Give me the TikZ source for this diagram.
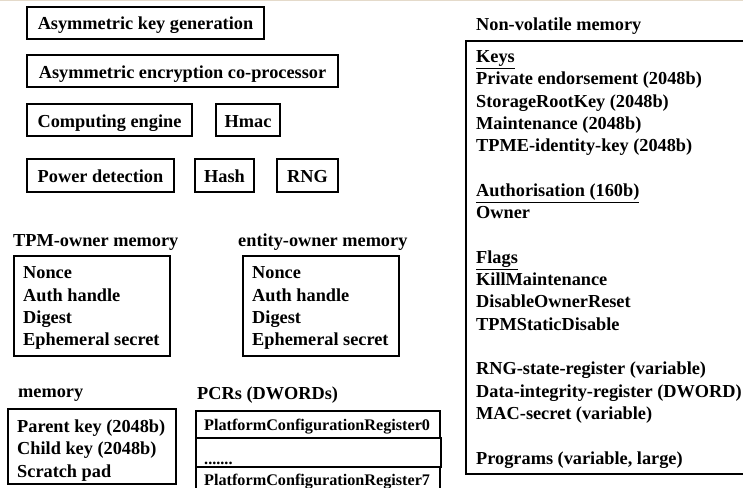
\documentclass[tikz,border=0pt]{standalone}
\usepackage{fontspec}
\setmainfont{Liberation Serif}
\definecolor{topline}{RGB}{228,218,202}
\begin{document}
\begin{tikzpicture}[x=1pt,y=-1pt,
  txt/.style={font=\fontsize{18.3}{22.3}\selectfont\bfseries, text=black},
  smalltxt/.style={font=\fontsize{16.2}{19}\selectfont\bfseries, text=black},
  box/.style={txt, draw=black, line width=1.7pt, inner sep=0pt, text height=16pt, text depth=2pt, minimum width=#1},
  frame/.style={draw=black, line width=1.7pt, anchor=north west, inner sep=0pt},
  listtxt/.style={txt, anchor=west, align=left, inner sep=0pt},
  pcrbox/.style={smalltxt, draw=black, line width=1.7pt, anchor=north west, inner sep=0pt},
  pcrtxt/.style={smalltxt, anchor=base west, inner sep=0pt},
  lbl/.style={txt, anchor=west, inner sep=0pt}
]
\useasboundingbox (0,0) rectangle (743,487);
\clip (0,0) rectangle (743,487);
\fill[topline] (0,0) rectangle (743,1.5);

% top functional blocks
\node[box=237pt, minimum height=32pt] (akg) at (145.5,23) {Asymmetric key generation};
\node[box=311pt, minimum height=32pt] (aec) at (182.5,71) {Asymmetric encryption co-processor};
\node[box=165pt, minimum height=32pt] (ce) at (109.5,120) {Computing engine};
\node[box=64pt, minimum height=32pt] (hmac) at (248,120) {Hmac};
\node[box=147pt, minimum height=33pt] (pd) at (100.5,175.5) {Power detection};
\node[box=59pt, minimum height=33pt] (hash) at (224.5,175.5) {Hash};
\node[box=61pt, minimum height=33pt] (rng) at (307.5,175.5) {RNG};

% TPM-owner memory
\node[lbl] (tpmlbl) at (13,242) {TPM-owner memory};
\node[frame, minimum width=156pt, minimum height=100pt] (tpm) at (13,255) {};
\node[listtxt] (tpmtxt) at ([shift={(10,2.5)}]tpm.west)
  {Nonce\\Auth handle\\Digest\\Ephemeral secret};

% entity-owner memory
\node[lbl] (entlbl) at (238,242) {entity-owner memory};
\node[frame, minimum width=156pt, minimum height=100pt] (ent) at (242,255) {};
\node[listtxt] (enttxt) at ([shift={(10,2.5)}]ent.west)
  {Nonce\\Auth handle\\Digest\\Ephemeral secret};

% memory
\node[lbl] (memlbl) at (18,395) {memory};
\node[frame, minimum width=168pt, minimum height=75pt] (mem) at (7,408) {};
\node[listtxt] (memtxt) at ([shift={(10,4)}]mem.west)
  {Parent key (2048b)\\Child key (2048b)\\Scratch pad};

% PCRs
\node[lbl] (pcrlbl) at (197,395) {PCRs (DWORDs)};
\node[pcrbox, minimum width=244pt, minimum height=27pt] (pcr0) at (195,410) {};
\node[pcrbox, minimum width=245pt, minimum height=29pt] (pcrd) at (195,437) {};
\node[pcrbox, minimum width=244pt, minimum height=29pt] (pcr7) at (195,466) {};
\node[pcrtxt] (pcr0t) at ([shift={(9,6.5)}]pcr0.west) {PlatformConfigurationRegister0};
\node[pcrtxt] (pcrdt) at ([shift={(9,12)}]pcrd.west) {.......};
\node[pcrtxt] (pcr7t) at ([shift={(9,4.5)}]pcr7.west) {PlatformConfigurationRegister7};

% Non-volatile memory
\node[lbl] (nvlbl) at (476,26) {Non-volatile memory};
\node[frame, minimum width=300pt, minimum height=433pt] (nv) at (465,40) {};
\node[listtxt] (nvtxt) at ([shift={(11,2)}]nv.west)
  {\underline{Keys}\\
   Private endorsement (2048b)\\
   StorageRootKey (2048b)\\
   Maintenance (2048b)\\
   TPME-identity-key (2048b)\\[22.3pt]
   \underline{Authorisation (160b)}\\
   Owner\\[22.3pt]
   \underline{Flags}\\
   KillMaintenance\\
   DisableOwnerReset\\
   TPMStaticDisable\\[22.3pt]
   RNG-state-register (variable)\\
   Data-integrity-register (DWORD)\\
   MAC-secret (variable)\\[22.3pt]
   Programs (variable, large)};
\end{tikzpicture}
\end{document}
